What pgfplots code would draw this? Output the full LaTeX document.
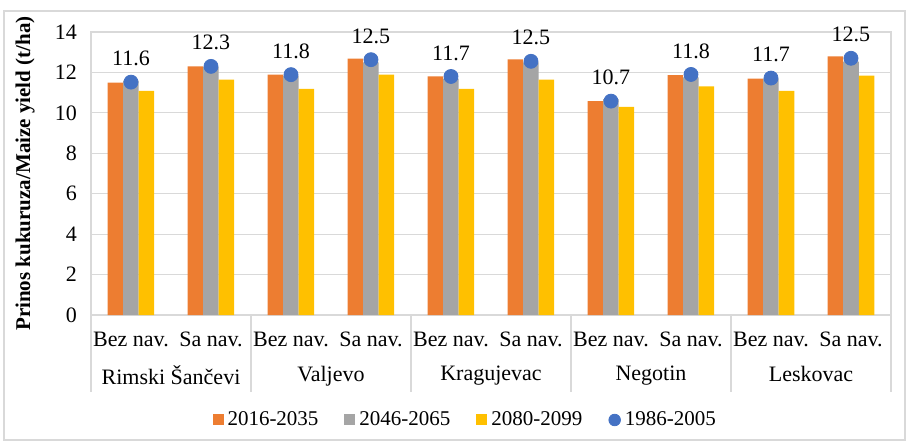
\documentclass[border=0pt]{standalone}
\usepackage{pgfplots}
\pgfplotsset{compat=1.18}
\usepackage{fontspec}
\setmainfont{Liberation Serif}
\definecolor{cOr}{HTML}{ED7D31}
\definecolor{cGr}{HTML}{A5A5A5}
\definecolor{cYe}{HTML}{FFC000}
\definecolor{cBl}{HTML}{4472C4}
\definecolor{cGrid}{HTML}{D9D9D9}
\begin{document}
\begin{tikzpicture}
\useasboundingbox (-45.5pt,-64.5pt) rectangle (409pt,157.5pt);
\draw[cGrid, line width=0.6pt] (-43.5pt,-62.5pt) rectangle (407pt,152pt);
\begin{axis}[
  at={(0,0)}, anchor=south west,
  scale only axis, width=400pt, height=141.5pt,
  xmin=-0.5, xmax=9.5, ymin=0, ymax=14,
  ytick={0,2,...,14},
  xtick={0,...,9},
  xticklabels={Bez nav.,Sa nav.,Bez nav.,Sa nav.,Bez nav.,Sa nav.,Bez nav.,Sa nav.,Bez nav.,Sa nav.},
  extra x ticks={0.5,2.5,4.5,6.5,8.5},
  extra x tick labels={Rimski Šančevi,Valjevo,Kragujevac,Negotin,Leskovac},
  extra x tick style={grid=none, major tick length=0pt, tick label style={yshift=-17pt}},
  major tick length=0pt,
  ymajorgrids, grid style={cGrid, line width=0.6pt},
  axis line style={cGrid, line width=0.6pt},
  x tick label style={font=\fontsize{11}{13}\selectfont, yshift=-5pt},
  y tick label style={font=\fontsize{11}{13}\selectfont, xshift=-3.5pt},
  /pgf/number format/assume math mode=true,
  ylabel={Prinos kukuruza/Maize yield (t/ha)},
  every axis y label/.style={at={([xshift=-33pt]axis description cs:0,0.5)}, rotate=90, anchor=center, font=\bfseries\fontsize{10.5}{12}\selectfont},
  clip=false,
  legend columns=4,
  legend style={at={(0.469,-0.371)}, anchor=center, draw=none, fill=none,
    font=\fontsize{10.5}{12}\selectfont,
    /tikz/every even column/.append style={column sep=11pt},
    /tikz/every odd column/.append style={column sep=0pt}},
]
\addplot[ybar, bar width=7.75pt, bar shift=-7.75pt, fill=cOr, draw=none,
  legend image code/.code={\fill[cOr] (0pt,-2.75pt) rectangle (5.5pt,2.75pt);}]
  coordinates {(0,11.50) (1,12.30) (2,11.89) (3,12.68) (4,11.80) (5,12.65) (6,10.58) (7,11.87) (8,11.69) (9,12.80)};
\addlegendentry{2016-2035}
\addplot[ybar, bar width=7.75pt, bar shift=0pt, fill=cGr, draw=none,
  legend image code/.code={\fill[cGr] (0pt,-2.75pt) rectangle (5.5pt,2.75pt);}]
  coordinates {(0,11.60) (1,12.27) (2,11.84) (3,12.50) (4,11.69) (5,12.50) (6,10.68) (7,11.76) (8,11.69) (9,12.53)};
\addlegendentry{2046-2065}
\addplot[ybar, bar width=7.75pt, bar shift=7.75pt, fill=cYe, draw=none,
  legend image code/.code={\fill[cYe] (0pt,-2.75pt) rectangle (5.5pt,2.75pt);}]
  coordinates {(0,11.09) (1,11.64) (2,11.19) (3,11.89) (4,11.19) (5,11.64) (6,10.29) (7,11.31) (8,11.09) (9,11.84)};
\addlegendentry{2080-2099}
\addplot[only marks, mark=*, mark size=3.5pt, color=cBl,
  legend image code/.code={\fill[cBl] (2.9pt,0pt) circle (2.9pt);},
  nodes near coords, point meta=explicit symbolic,
  every node near coord/.append style={anchor=south, yshift=4.5pt, text=black, font=\fontsize{11}{13}\selectfont}]
  coordinates {(0,11.52) [11.6] (1,12.30) [12.3] (2,11.89) [11.8] (3,12.63) [12.5] (4,11.80) [11.7] (5,12.55) [12.5] (6,10.58) [10.7] (7,11.90) [11.8] (8,11.72) [11.7] (9,12.70) [12.5]};
\addlegendentry{1986-2005}
\foreach \xx in {-0.5,1.5,3.5,5.5,7.5,9.5} {
  \edef\temp{\noexpand\draw[cGrid, line width=0.6pt] (axis cs:\xx,0) -- ++(0pt,-38.5pt);}
  \temp
}
\end{axis}
\end{tikzpicture}
\end{document}
